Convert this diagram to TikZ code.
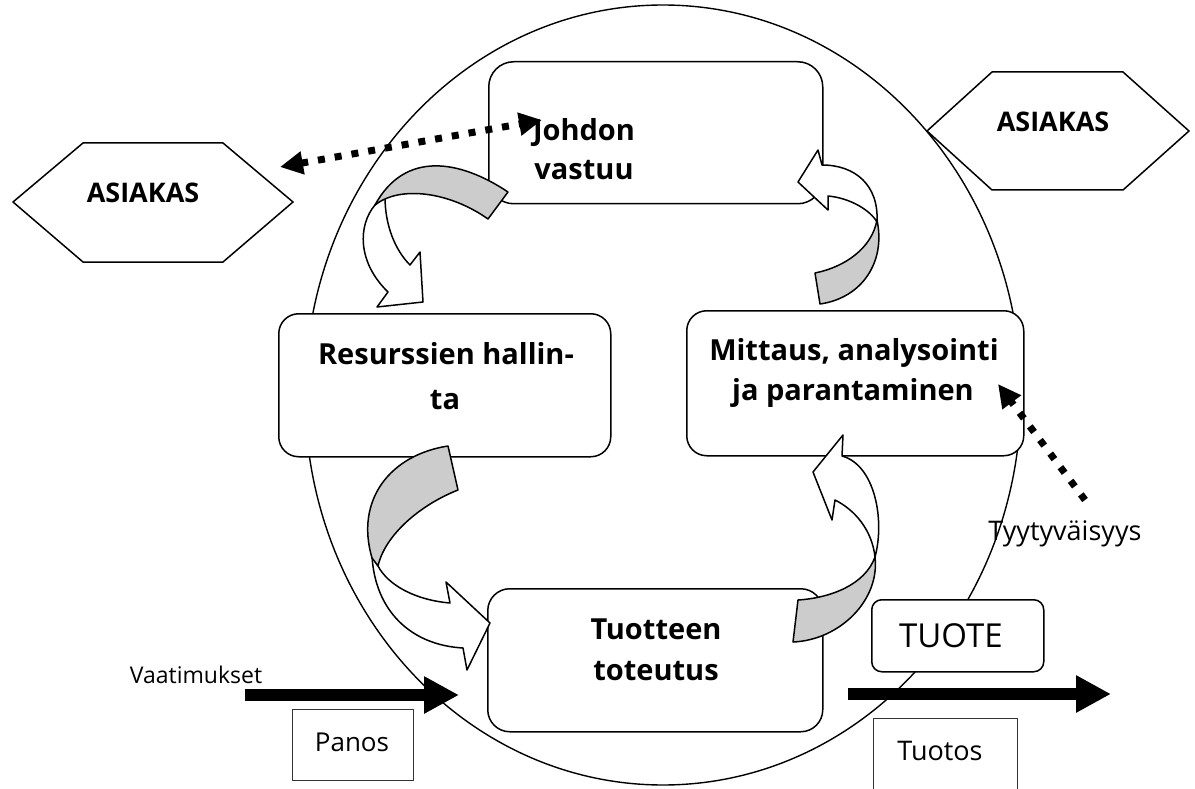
\documentclass[tikz,border=0pt]{standalone}
\usepackage{fontspec}
\setmainfont{Open Sans}
\usetikzlibrary{arrows.meta}
\begin{document}
\begin{tikzpicture}[x=1pt,y=-1pt,line join=round,
  box/.style={draw,line width=1.5pt,fill=white,anchor=north west,inner sep=0pt},
  plainbox/.style={draw=black!80,line width=1.1pt,fill=white,anchor=north west,inner sep=0pt},
  bt/.style={font=\fontsize{29}{40}\selectfont\bfseries,inner sep=0pt,anchor=base},
  rt/.style={inner sep=0pt,anchor=base},
  hexa/.style={draw,line width=1.5pt,fill=white},
  gband/.style={draw,line width=1.5pt,fill=black!20},
  wband/.style={draw,line width=1.5pt,fill=white},
  dots/.style={line width=7pt,dash pattern=on 7pt off 10pt},
  bigarrow/.style={line width=12pt,-{Triangle[length=35pt,width=35pt]}},
]
\useasboundingbox (0,0) rectangle (1195,789);
\clip (0,0) rectangle (1195,789);
% big circle
\draw[line width=1.4pt] (663,395) ellipse [x radius=358pt,y radius=390pt];
% boxes
\node[box,rounded corners=25pt,minimum width=334pt,minimum height=142pt] (johdon) at (488,61) {};
\node[box,rounded corners=20pt,minimum width=332pt,minimum height=143pt] (resurssit) at (278,313) {};
\node[box,rounded corners=20pt,minimum width=337pt,minimum height=145pt] (mittaus) at (686,310) {};
\node[box,rounded corners=22pt,minimum width=335pt,minimum height=143pt] (tuotteen) at (487,588) {};
% hexagons
\draw[hexa] (13,202)--(83,143)--(223,143)--(293,202)--(223,262)--(83,262)--cycle;
\draw[hexa] (927,131)--(992,72)--(1123,72)--(1189,131)--(1123,190)--(992,190)--cycle;
\node[font=\fontsize{27}{30}\selectfont\bfseries,inner sep=0pt] (asiakasL) at (143,193) {ASIAKAS};
\node[font=\fontsize{27}{30}\selectfont\bfseries,inner sep=0pt] (asiakasR) at (1053,122) {ASIAKAS};
% curved arrow 1 (Johdon -> Resurssien)
\draw[wband] (375,205) .. controls (358,225) and (357,262) .. (388,292) -- (377,307) -- (423,302) -- (420,252) -- (410,265) .. controls (395,250) and (385,225) .. (385,197) -- cycle;
\draw[gband] (508,192) .. controls (460,160) and (405,150) .. (375,205) .. controls (400,185) and (450,192) .. (488,219) -- cycle;
% curved arrow 2 (Mittaus -> Johdon)
\draw[wband] (877,222) .. controls (879,185) and (855,165) .. (822,165) -- (818,150) -- (798,182) -- (828,210) -- (828,196) .. controls (850,198) and (870,210) .. (877,222) -- cycle;
\draw[gband] (815,273) .. controls (845,267) and (872,248) .. (877,220) .. controls (886,262) and (862,298) .. (820,304) -- cycle;
% curved arrow 3 (Resurssien -> Tuotteen)
\draw[wband] (372,556) .. controls (375,610) and (410,645) .. (463,648) -- (467,670) -- (490,623) -- (446,582) -- (450,603) .. controls (415,600) and (388,585) .. (378,566) -- cycle;
\draw[gband] (448,446) .. controls (390,455) and (355,500) .. (372,558) -- (378,566) .. controls (385,535) and (420,505) .. (458,490) -- cycle;
% curved arrow 4 (Tuotteen -> Mittaus)
\draw[wband] (875,557) .. controls (885,520) and (875,465) .. (842,456) -- (843,435) -- (813,472) -- (832,520) -- (835,500) .. controls (855,510) and (872,530) .. (875,557) -- cycle;
\draw[gband] (798,600) .. controls (830,598) and (865,585) .. (875,557) .. controls (880,600) and (840,640) .. (793,642) -- cycle;
% dotted arrows
\coordinate (dL) at (280,167);
\coordinate (dR) at (542,120);
\draw[dots,{Triangle[length=23pt,width=22pt]}-{Triangle[length=23pt,width=22pt]}] (dL) -- (dR);
\node[rt,font=\fontsize{27}{30}\selectfont] (tyyt) at (1065,540) {Tyytyväisyys};
\coordinate (tyS) at (1085,500);
\coordinate (tyE) at (998,384);
\draw[dots,-{Triangle[length=23pt,width=22pt]}] (tyS) -- (tyE);
% box texts
\node[bt] (t1a) at (584,141) {Johdon};
\node[bt] (t1b) at (584,180) {vastuu};
\node[bt] (t2a) at (446,364) {Resurssien hallin-};
\node[bt] (t2b) at (445,409) {ta};
\node[bt] (t3a) at (854,360) {Mittaus, analysointi};
\node[bt] (t3b) at (853,400) {ja parantaminen};
\node[bt] (t4a) at (656,639) {Tuotteen};
\node[bt] (t4b) at (656,680) {toteutus};
% small boxes
\node[box,rounded corners=10pt,minimum width=172pt,minimum height=72pt] (tuote) at (871,599) {};
\node[rt,font=\fontsize{33}{36}\selectfont] (tuotetxt) at (951,647) {TUOTE};
\node[plainbox,minimum width=121pt,minimum height=71pt] (panos) at (292,709) {};
\node[rt,font=\fontsize{26}{30}\selectfont] (panostxt) at (352,751) {Panos};
\node[plainbox,minimum width=144pt,minimum height=90pt] (tuotos) at (873,718) {};
\node[rt,font=\fontsize{27}{30}\selectfont] (tuotostxt) at (940,760) {Tuotos};
% input / output arrows
\node[rt,font=\fontsize{23}{28}\selectfont] (vaat) at (196,683) {Vaatimukset};
\coordinate (inS) at (245,695);
\coordinate (inE) at (459,695);
\draw[bigarrow] (inS) -- (inE);
\coordinate (outS) at (848,694);
\coordinate (outE) at (1111,694);
\draw[bigarrow] (outS) -- (outE);
\end{tikzpicture}
\end{document}
